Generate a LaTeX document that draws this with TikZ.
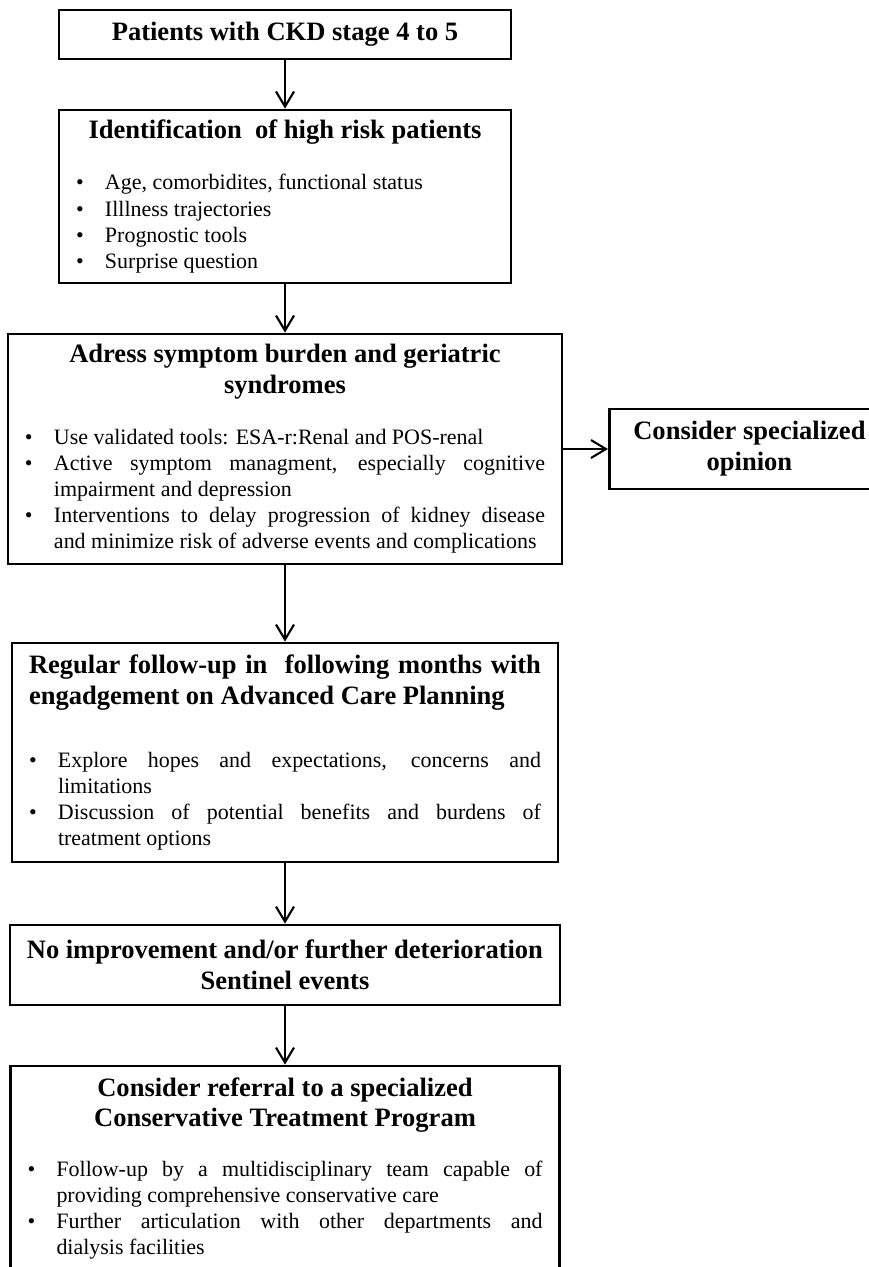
\documentclass[tikz,border=0pt]{standalone}
\usepackage{fontspec}
\setmainfont{Liberation Serif}
\usetikzlibrary{arrows.meta}

\newcommand{\ttl}[1]{{\centering\fontsize{15.1}{17.6}\selectfont\bfseries #1\par}}
\newcommand{\bul}[1]{\par\hangindent=0.58cm\hangafter=1\noindent\makebox[0.58cm][l]{\textbullet}#1\par}

\begin{document}
\begin{tikzpicture}
        \tikzstyle{box}=[rectangle, draw=black, line width=1.6pt, inner xsep=0.34cm, inner ysep=0.1cm, align=justify, font=\fontsize{12.5}{14.8}\selectfont, text=black]
        \tikzstyle{edge}=[black, line width=1.2pt, -{Straight Barb[length=0.3cm, width=0.36cm]}]

        \useasboundingbox (0,0) rectangle (17.38,-25.34);

        \node[box, text width=8.36cm,  minimum height=0.98cm] (b1) at (5.7,-0.69)  {\ttl{Patients with CKD stage 4 to 5}};
        \node[box, text width=8.36cm,  minimum height=3.46cm] (b2) at (5.7,-3.93)  {\ttl{Identification\ \ of high risk patients}\vspace{0.5cm}
            \bul{Age, comorbidites, functional status}
            \bul{Illlness trajectories}
            \bul{Prognostic tools}
            \bul{Surprise question}};
        \node[box, text width=10.40cm, minimum height=4.6cm]  (b3) at (5.7,-8.98)  {\ttl{Adress symptom burden and geriatric\\ syndromes}\vspace{0.5cm}
            \bul{Use validated tools: ESA-r:Renal and POS-renal}
            \bul{Active symptom managment, especially cognitive\linebreak impairment and depression}
            \bul{Interventions to delay progression of kidney disease\linebreak and minimize risk of adverse events and complications}};
        \node[box, text width=5.0cm, inner xsep=0.17cm, minimum width=5.6cm, minimum height=1.6cm, anchor=west] (opinion) at (12.16,-8.98) {\ttl{Consider specialized\\ opinion}};
        \node[box, text width=10.24cm, minimum height=4.38cm] (b4) at (5.7,-15.05) {{\fontsize{15.1}{17.6}\selectfont\bfseries Regular follow-up in\ \ following months with\linebreak engadgement on Advanced Care Planning\par}\vspace{0.74cm}
            \bul{Explore hopes and expectations, concerns and\linebreak limitations}
            \bul{Discussion of potential benefits and burdens of\linebreak treatment options}};
        \node[box, text width=10.32cm, minimum height=1.6cm]  (b5) at (5.7,-19.30) {\ttl{No improvement and/or further deterioration\\ Sentinel events}};
        \node[box, text width=10.30cm, minimum height=4.1cm]  (b6) at (5.7,-23.37) {\ttl{Consider referral to a specialized\\ Conservative Treatment Program}\vspace{0.48cm}
            \bul{Follow-up by a multidisciplinary team capable of\linebreak providing comprehensive conservative care}
            \bul{Further articulation with other departments and\linebreak dialysis facilities}};

        \draw[edge] (b1) -- (b2);
        \draw[edge] (b2) -- (b3);
        \draw[edge] (b3) -- (opinion);
        \draw[edge] (b3) -- (b4);
        \draw[edge] (b4) -- (b5);
        \draw[edge] (b5) -- (b6);
    \end{tikzpicture}
\end{document}
